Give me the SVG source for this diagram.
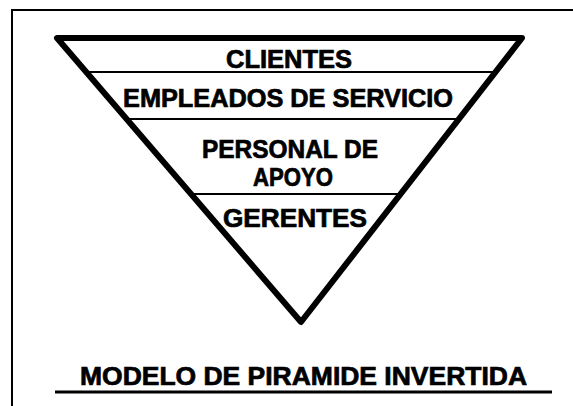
<svg xmlns="http://www.w3.org/2000/svg" width="573" height="406" viewBox="0 0 573 406">
  <style>
    .lbl { font-family: "Liberation Sans", Arial, sans-serif; font-weight: bold; font-size: 25px; fill: #000; stroke: #000; stroke-width: 0.7; text-anchor: middle; }
    .sep { stroke: #000; stroke-width: 2; fill: none; }
    .frame { stroke: #000; stroke-width: 2; fill: none; }
  </style>
  <rect width="573" height="406" fill="#fff"/>
  <g id="frame">
    <path class="frame" d="M12,406 L12,10 L573,10"/>
  </g>
  <g id="pyramid">
    <path d="M57,38 L522,38 L301,322 Z" fill="none" stroke="#000" stroke-width="6" stroke-linejoin="round"/>
  </g>
  <g id="connectors">
    <line class="sep" x1="86" y1="72" x2="496" y2="72"/>
    <line class="sep" x1="127" y1="119" x2="459" y2="119"/>
    <line class="sep" x1="191" y1="194" x2="401" y2="194"/>
  </g>
  <g id="clientes">
    <text class="lbl" x="289" y="68" textLength="126" lengthAdjust="spacingAndGlyphs">CLIENTES</text>
  </g>
  <g id="empleados">
    <text class="lbl" x="288" y="107" textLength="330" lengthAdjust="spacingAndGlyphs">EMPLEADOS DE SERVICIO</text>
  </g>
  <g id="personal">
    <text class="lbl" x="290" y="158" textLength="176" lengthAdjust="spacingAndGlyphs">PERSONAL DE</text>
    <text class="lbl" x="293" y="186" textLength="80" lengthAdjust="spacingAndGlyphs">APOYO</text>
  </g>
  <g id="gerentes">
    <text class="lbl" x="295" y="227" textLength="144" lengthAdjust="spacingAndGlyphs">GERENTES</text>
  </g>
  <g id="caption">
    <text class="lbl" x="303.5" y="385" font-size="26" textLength="447" lengthAdjust="spacingAndGlyphs">MODELO DE PIRAMIDE INVERTIDA</text>
    <line x1="55" y1="392" x2="552" y2="392" stroke="#000" stroke-width="3"/>
  </g>
</svg>
